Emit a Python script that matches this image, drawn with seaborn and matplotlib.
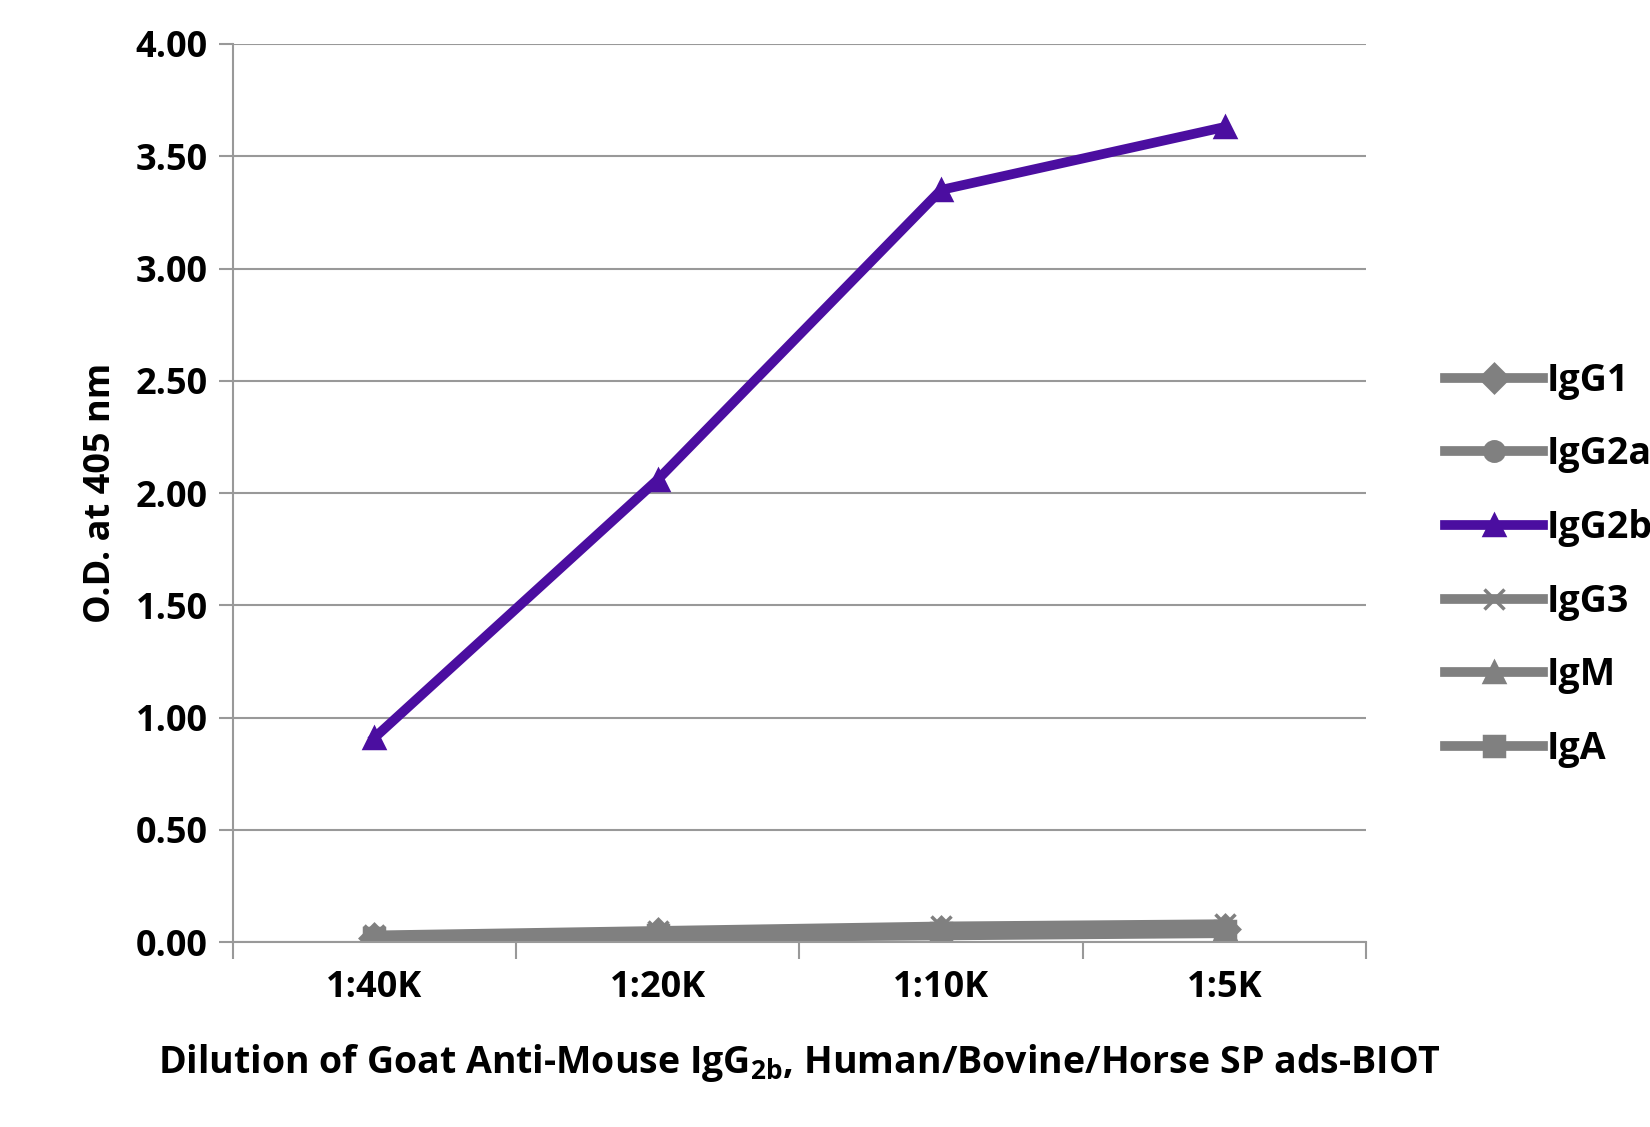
import matplotlib
matplotlib.use("Agg")
import matplotlib.pyplot as plt
import seaborn as sns
import pandas as pd
import numpy as np

categories = ["1:40K", "1:20K", "1:10K", "1:5K"]
series_names = ["IgG1", "IgG2a", "IgG2b", "IgG3", "IgM", "IgA"]
igg1 = [0.02, 0.04, 0.05, 0.06]
igg2a = [0.01, 0.02, 0.03, 0.04]
igg2b = [0.91, 2.06, 3.35, 3.63]
igg3 = [0.03, 0.05, 0.07, 0.08]
igm = [0.02, 0.04, 0.05, 0.06]
iga = [0.02, 0.03, 0.04, 0.05]
yticks = [0.0, 0.5, 1.0, 1.5, 2.0, 2.5, 3.0, 3.5, 4.0]

values = [igg1, igg2a, igg2b, igg3, igm, iga]
rows = []
for name, vals in zip(series_names, values):
    for i, v in enumerate(vals):
        rows.append({"x": i, "y": v, "s": name})
df = pd.DataFrame(rows)

grey = "#808080"
purple = "#4B0EA0"
palette = {n: (purple if n == "IgG2b" else grey) for n in series_names}
markers = {"IgG1": "D", "IgG2a": "o", "IgG2b": "^", "IgG3": "x", "IgM": "^", "IgA": "s"}

plt.rcParams["font.family"] = "Open Sans"
plt.rcParams["font.weight"] = "bold"
plt.rcParams["mathtext.default"] = "regular"
fig = plt.figure(figsize=(16.5, 11.27), dpi=100)
ax = fig.add_axes([0.141, 0.164, 0.687, 0.797])

order = ["IgG1", "IgG2a", "IgG3", "IgM", "IgA", "IgG2b"]
for n in order:
    sub = df[df.s == n]
    sns.lineplot(data=sub, x="x", y="y", ax=ax, color=palette[n], marker=markers[n],
                 markersize=14, linewidth=7, markeredgecolor=palette[n],
                 markeredgewidth=2.5, label=n)

ax.set_xlim(-0.5, 3.5)
ax.set_ylim(0, 4.0)
ax.set_yticks(yticks)
ax.set_yticklabels([f"{t:.2f}" for t in yticks], fontsize=26, fontweight="bold")
ax.set_xticks(range(4))
ax.set_xticklabels(categories, fontsize=26, fontweight="bold")
ax.set_xticks(np.arange(-0.5, 3.6, 1), minor=True)
ax.tick_params(axis="x", which="major", length=0, pad=20)
ax.tick_params(axis="x", which="minor", length=12, color="#999999", width=1.5)
ax.tick_params(axis="y", length=10, color="#999999", width=1.5, pad=8)
ax.grid(axis="y", color="#999999", linewidth=1.5)
ax.set_axisbelow(True)
for s in ["top", "right"]:
    ax.spines[s].set_visible(False)
for s in ["left", "bottom"]:
    ax.spines[s].set_color("#999999")
    ax.spines[s].set_linewidth(1.5)
ax.set_ylabel("O.D. at 405 nm", fontsize=26, fontweight="bold", labelpad=12)
ax.set_xlabel("Dilution of Goat Anti-Mouse IgG$_{2b}$, Human/Bovine/Horse SP ads-BIOT",
              fontsize=27, fontweight="bold", labelpad=26)

h, l = ax.get_legend_handles_labels()
hd = dict(zip(l, h))
ax.legend([hd[n] for n in series_names], series_names, loc="center left",
          bbox_to_anchor=(1.04, 0.42), frameon=False, fontsize=27,
          labelspacing=0.95, handlelength=2.6, handletextpad=0.1)

fig.savefig("out.png", dpi=100)
